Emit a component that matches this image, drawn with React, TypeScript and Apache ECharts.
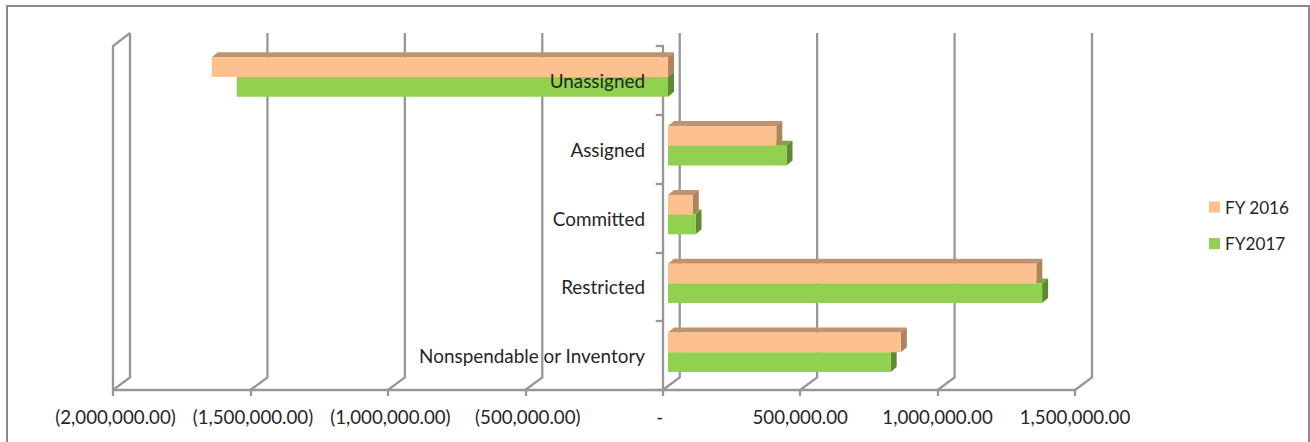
import React, { useEffect, useRef } from "react";
import * as echarts from "echarts";

const categories = ["Unassigned", "Assigned", "Committed", "Restricted", "Nonspendable or Inventory"];
const fy2016 = [-1660000, 394000, 90000, 1340000, 847000];
const fy2017 = [-1569000, 431000, 100000, 1361000, 810000];
const axisTicks = [-2000000, -1500000, -1000000, -500000, 0, 500000, 1000000, 1500000];

const FONT = "Lato";
const TEXT = "#262626";
const LINE = "#979797";
const LINE_W = 2.3;

const fmt = (v: number) => {
  if (v === 0) return "{dash|-}";
  const s = Math.abs(v).toLocaleString("en-US", { minimumFractionDigits: 2, maximumFractionDigits: 2 });
  return v < 0 ? `{neg|(${s})}` : s;
};

// Box drawn in the oblique projection of the reference
const box = (front: string, top: string, side: string, upper: boolean) => (params: any, api: any) => {
  const cat = api.value(0);
  const val = api.value(1);
  const [x0, c] = api.coord([0, cat]);
  const [xv] = api.coord([val, cat]);
  const shift = 5.3;
  const h = 19.7;
  const dx = 6;
  const dy = 5;
  const mid = c - 3.4;
  const t = upper ? mid - h : mid;
  const b = upper ? mid : mid + h;
  const l = Math.min(x0, xv) + shift;
  const r = Math.max(x0, xv) + shift;
  return {
    type: "group",
    children: [
      { type: "polygon", shape: { points: [[l, t], [l + dx, t - dy], [r + dx, t - dy], [r, t]] }, style: { fill: top } },
      { type: "polygon", shape: { points: [[r, t], [r + dx, t - dy], [r + dx, b - dy], [r, b]] }, style: { fill: side } },
      { type: "rect", shape: { x: l, y: t, width: r - l, height: b - t }, style: { fill: front } },
    ],
  };
};

const walls = (params: any, api: any) => {
  const v = api.value(0);
  const sys = params.coordSys;
  const [x] = api.coord([v, 0]);
  const top = sys.y;
  const bottom = sys.y + sys.height;
  const dx = 17;
  const style = { fill: "none", stroke: LINE, lineWidth: LINE_W };
  const children: any[] = [
    { type: "polyline", shape: { points: [[x, bottom], [x + dx, bottom - 12.5], [x + dx, top - 13]] }, style },
  ];
  if (params.dataIndex === 0) {
    children.push({ type: "polyline", shape: { points: [[x + dx, top - 13], [x, top], [x, bottom]] }, style });
  }
  return { type: "group", children };
};

export default function App() {
  const ref = useRef<HTMLDivElement>(null);
  useEffect(() => {
    const chart = echarts.init(ref.current!, undefined, { renderer: "svg" });
    const font = { fontFamily: FONT, fontSize: 18.7, color: TEXT };
    chart.setOption({
      animation: false,
      backgroundColor: "#ffffff",
      textStyle: { fontFamily: FONT },
      grid: { left: 113, top: 46, width: 962, height: 344, containLabel: false, outerBoundsMode: "none" },
      legend: {
        orient: "vertical",
        left: 1204,
        top: 193.5,
        itemWidth: 11,
        itemHeight: 11,
        itemGap: 19.6,
        icon: "rect",
        data: ["FY 2016", "FY2017"],
        textStyle: { fontFamily: FONT, fontSize: 17.2, color: TEXT },
      },
      xAxis: {
        type: "value",
        min: -2000000,
        max: 1500000,
        interval: 500000,
        splitLine: { show: false },
        axisLine: { show: true, onZero: false, lineStyle: { color: LINE, width: LINE_W } },
        axisTick: { show: true, length: 6, lineStyle: { color: LINE, width: LINE_W } },
        axisLabel: {
          ...font,
          margin: 17,
          formatter: fmt,
          showMinLabel: true,
          showMaxLabel: true,
          hideOverlap: false,
          rich: {
            neg: { ...font, padding: [0, 0, 0, 5] },
            dash: { ...font, padding: [0, 6, 0, 0] },
          },
        },
        z: 1,
      },
      yAxis: [
        {
          type: "category",
          inverse: true,
          data: categories,
          position: "left",
          axisLine: { show: true, onZero: true, lineStyle: { color: LINE, width: LINE_W } },
          axisTick: { show: true, length: 7, lineStyle: { color: LINE, width: LINE_W } },
          axisLabel: { show: false },
          z: 1,
        },
        {
          type: "category",
          inverse: true,
          data: categories,
          position: "left",
          axisLine: { show: false, onZero: false },
          axisTick: { show: false },
          // labels sit beside the zero line, well inside the plot; margin is measured from the plot's left edge
          axisLabel: { ...font, fontSize: 18.9, margin: -532, interval: 0, lineHeight: 22, padding: [6, 0, 0, 0] },
          z: 10,
        },
      ],
      series: [
        {
          name: "walls",
          type: "custom",
          coordinateSystem: "cartesian2d",
          renderItem: walls,
          data: axisTicks.map((v) => [v]),
          encode: { x: 0 },
          silent: true,
          clip: false,
          z: 0,
        },
        {
          name: "FY2017",
          type: "custom",
          coordinateSystem: "cartesian2d",
          renderItem: box("#92D050", "#76a83f", "#5f8a2f", false),
          itemStyle: { color: "#92D050" },
          data: fy2017.map((v, i) => [i, v]),
          encode: { y: 0, x: 1 },
          clip: false,
          z: 3,
        },
        {
          name: "FY 2016",
          type: "custom",
          coordinateSystem: "cartesian2d",
          renderItem: box("#FCC18F", "#C09370", "#AD845F", true),
          itemStyle: { color: "#FCC18F" },
          data: fy2016.map((v, i) => [i, v]),
          encode: { y: 0, x: 1 },
          clip: false,
          z: 4,
        },
      ],
      graphic: [
        {
          type: "polyline",
          shape: { points: [[7, 442], [7, 6], [1309, 6], [1309, 442]] },
          style: { fill: "none", stroke: "#8c8c8c", lineWidth: 2 },
          silent: true,
        },
      ],
    });
    return () => chart.dispose();
  }, []);
  return <div ref={ref} style={{ position: "fixed", left: 0, top: 0, width: 1310, height: 442 }} />;
}
